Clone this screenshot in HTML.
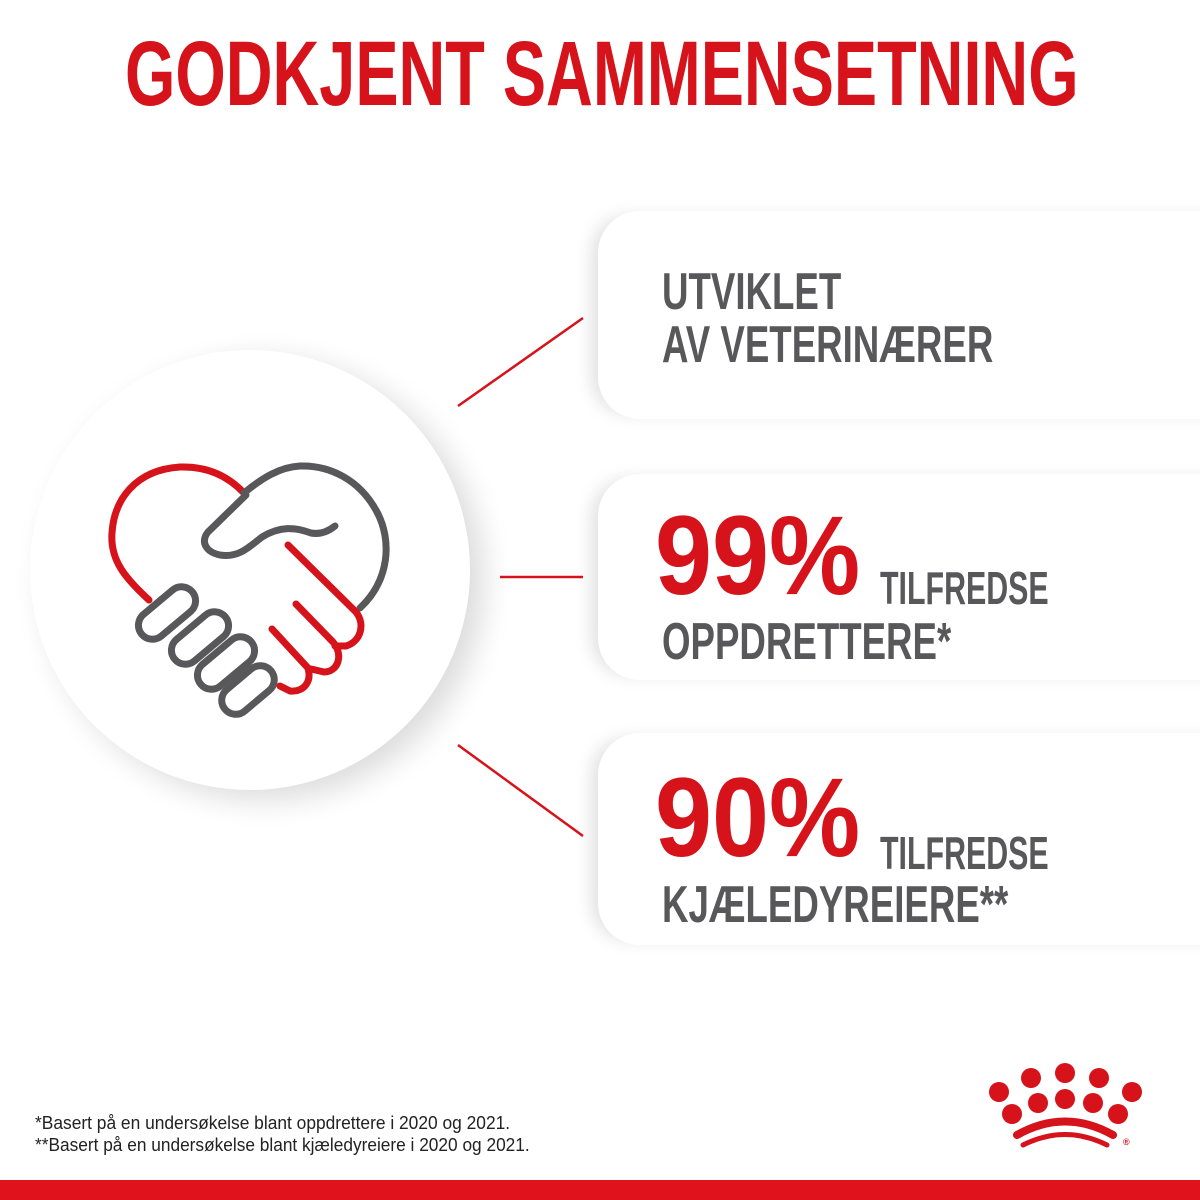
<!DOCTYPE html>
<html><head><meta charset="utf-8"><style>
body{margin:0;width:1200px;height:1200px;background:#fff;position:relative;overflow:hidden;font-family:"Liberation Sans Narrow","Liberation Sans",sans-serif;font-weight:bold}
.t{position:absolute;white-space:nowrap;line-height:1;transform-origin:0 0}
.card{position:absolute;left:598px;width:640px;background:#fff;border-radius:42px 0 0 42px;box-shadow:-12px 0 18px -6px rgba(0,0,0,.13)}
.circ{position:absolute;left:30px;top:350px;width:440px;height:440px;border-radius:50%;background:#fff;box-shadow:14px 10px 30px rgba(0,0,0,.14)}
.g{color:#58585a}.r{color:#d6121b}
.s7{transform:scaleX(.705)}
</style></head><body>
<div class="t r" style="left:125px;top:28px;font-size:92px;transform:scaleX(.704)">GODKJENT SAMMENSETNING</div>
<div class="card" style="top:211px;height:208px"></div>
<div class="card" style="top:474px;height:206px"></div>
<div class="card" style="top:733px;height:212px"></div>
<div class="circ"></div>
<svg style="position:absolute;left:0;top:0" width="1200" height="1200">
<g stroke="#d6121b" stroke-width="2.5">
<line x1="458" y1="406" x2="583" y2="318"/><line x1="500" y1="577" x2="583" y2="577"/><line x1="458" y1="745" x2="583" y2="836"/></g>
<g fill="none" stroke-width="7" stroke-linecap="round" stroke-linejoin="round">
<path stroke="#d6121b" d="M149 600 C125 578 110 560 112 533 C114 500 135 470 180 467 C210 466 230 478 244 493"/>
<path stroke="#58585a" d="M244 493 C262 478 280 467 300 466 C330 465 360 480 377 512 C392 540 390 580 360 608"/>
<path stroke="#58585a" d="M246 495 L208 532 C200 542 206 552 220 555 C238 558 248 548 262 537 C280 526 295 527 311 533 C322 535 330 530 335 526"/>
<path stroke="#d6121b" d="M288 545 L356 612 C366 625 360 642 346 646 L335 646"/>
<path stroke="#d6121b" d="M296 604 L333 642 C344 655 338 672 324 672 L311 669"/>
<path stroke="#d6121b" d="M272 629 L308 668 C312 682 304 692 290 691 L280 686"/>
<g stroke="#58585a">
<rect x="-33" y="-14" width="66" height="28" rx="14" transform="translate(167,613) rotate(-40)"/>
<rect x="-33" y="-14" width="66" height="28" rx="14" transform="translate(200,638) rotate(-40)"/>
<rect x="-33" y="-14" width="66" height="28" rx="14" transform="translate(226,663) rotate(-40)"/>
<rect x="-30" y="-14" width="60" height="28" rx="14" transform="translate(248,690) rotate(-40)"/>
</g></g>
<g fill="#d6121b">
<circle cx="999" cy="1092" r="10"/><circle cx="1031" cy="1078" r="10"/><circle cx="1065" cy="1073" r="10"/><circle cx="1099" cy="1078" r="10"/><circle cx="1132" cy="1092" r="10"/>
<circle cx="1012" cy="1114" r="10"/><circle cx="1038" cy="1103" r="10"/><circle cx="1065" cy="1099" r="10"/><circle cx="1093" cy="1103" r="10"/><circle cx="1118" cy="1114" r="10"/>
</g>
<g fill="none" stroke="#d6121b" stroke-linecap="round">
<path stroke-width="8" d="M1017 1135 Q1065 1108 1113 1135"/>
<path stroke-width="5" d="M1023 1145 Q1065 1124 1107 1145"/>
</g>
<text x="1123" y="1145" font-size="9" fill="#d6121b" font-family="Liberation Sans">®</text>
</svg>
<div class="t g s7" style="left:662px;top:266px;font-size:52px">UTVIKLET</div>
<div class="t g s7" style="left:662px;top:319px;font-size:52px">AV VETERINÆRER</div>
<div class="t r" style="left:655px;top:500px;font-size:112px;transform:scaleX(.915)">99%</div>
<div class="t g" style="left:880px;top:565px;font-size:46px;transform:scaleX(.66)">TILFREDSE</div>
<div class="t g s7" style="left:662px;top:616px;font-size:52px">OPPDRETTERE*</div>
<div class="t r" style="left:655px;top:762px;font-size:112px;transform:scaleX(.915)">90%</div>
<div class="t g" style="left:880px;top:830px;font-size:46px;transform:scaleX(.66)">TILFREDSE</div>
<div class="t g s7" style="left:662px;top:879px;font-size:52px">KJÆLEDYREIERE**</div>
<div class="t" style="left:35px;top:1114px;font-size:18px;color:#222;font-weight:normal;transform:scaleX(.965)">*Basert på en undersøkelse blant oppdrettere i 2020 og 2021.</div>
<div class="t" style="left:35px;top:1136px;font-size:18px;color:#222;font-weight:normal;transform:scaleX(.96)">**Basert på en undersøkelse blant kjæledyreiere i 2020 og 2021.</div>
<div style="position:absolute;left:0;top:1180px;width:1200px;height:20px;background:#e0121b"></div>
</body></html>
